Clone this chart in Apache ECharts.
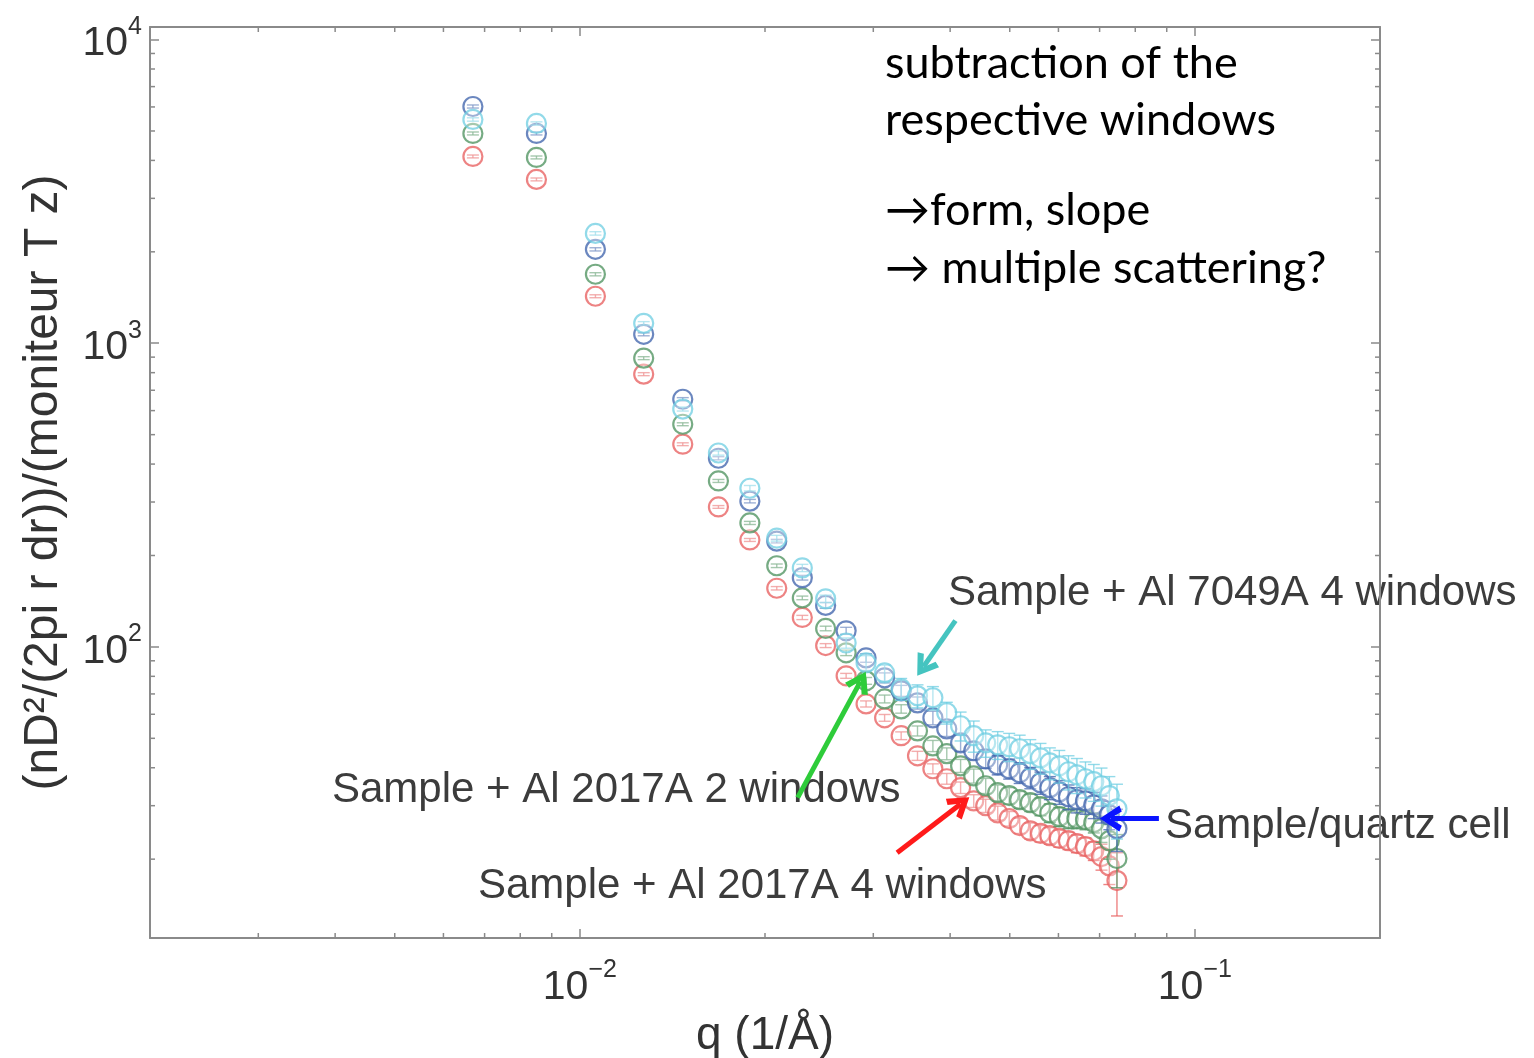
<!DOCTYPE html>
<html>
<head>
<meta charset="utf-8">
<script src="https://cdn.jsdelivr.net/npm/echarts@6/dist/echarts.min.js"></script>
<style>
  html, body { margin: 0; padding: 0; background: #fff; }
  #chart { width: 1534px; height: 1058px; }
</style>
</head>
<body>
<div id="chart"></div>
<script>
// q values (1/A)
const qValues = [0.0067, 0.0085, 0.0106, 0.0127, 0.0147, 0.0168, 0.0189, 0.0209, 0.0230, 0.0251,
  0.0271, 0.0292, 0.0313, 0.0333, 0.0354, 0.0375, 0.0395, 0.0416, 0.0437, 0.0457,
  0.0478, 0.0499, 0.0519, 0.0540, 0.0561, 0.0581, 0.0602, 0.0623, 0.0643, 0.0664,
  0.0685, 0.0705, 0.0726, 0.0747];

// Sample/quartz cell (blue)
const quartz = [6020, 4907, 2038, 1070, 654, 418, 302, 223, 169, 137,
  113, 92.0, 79.1, 71.7, 65.4, 58.4, 53.7, 48.3, 45.5, 42.8,
  40.9, 39.7, 38.5, 37.1, 35.7, 34.4, 33.3, 32.1, 31.4, 31.1,
  30.2, 29.3, 28.0, 25.2];
const quartzErr = [70, 55, 25, 12, 8, 5, 4, 3, 3, 3,
  3, 3, 3, 3, 3, 3, 3, 3, 3, 3,
  3, 3, 3, 3, 3, 3, 3, 3, 3, 3,
  3, 3, 3, 4];

// Sample + Al 7049A 4 windows (cyan)
const al7049 = [5456, 5293, 2300, 1163, 607, 435, 333, 228, 182, 144,
  103, 88.6, 82.1, 72.7, 69.0, 68.0, 60.7, 55.0, 51.0, 48.3,
  47.6, 46.9, 46.2, 44.5, 43.1, 41.5, 40.6, 38.8, 37.9, 36.8,
  36.0, 34.9, 32.4, 29.3];
const al7049Err = [70, 65, 30, 15, 9, 7, 7, 5, 5, 4,
  4, 5, 5, 6, 6, 6, 5, 6, 6, 5,
  5, 5, 5, 5, 5, 5, 5, 5, 5, 5,
  5, 5, 5, 6];

// Sample + Al 2017A 2 windows (green)
const al2017two = [4907, 4091, 1687, 893, 541, 352, 256, 185, 145, 115,
  95.6, 77.3, 67.4, 62.5, 52.9, 47.2, 44.5, 40.6, 37.6, 34.9,
  33.1, 32.4, 31.4, 30.7, 29.8, 28.4, 27.6, 27.2, 27.2, 27.0,
  26.4, 25.2, 23.0, 20.1];
const al2017twoErr = [55, 45, 20, 10, 6, 4, 3, 2.5, 2, 2,
  2, 2, 2, 2, 2, 2, 2, 2, 2, 2,
  2, 2, 2, 2, 2, 2, 2, 2, 2, 2,
  2, 2.5, 3, 4];

// Sample + Al 2017A 4 windows (red)
const al2017four = [4122, 3463, 1428, 791, 465, 289, 225, 156, 125, 101,
  80.3, 64.9, 58.4, 51.0, 43.8, 39.7, 36.8, 34.4, 31.1, 30.0,
  28.4, 27.2, 25.8, 24.8, 24.3, 23.9, 23.4, 23.0, 22.5, 22.0,
  21.3, 20.4, 19.0, 17.0];
const al2017fourErr = [45, 38, 16, 9, 5, 3, 2.5, 2, 2, 1.5,
  1.5, 1.5, 1.5, 1.5, 1.5, 1.5, 1.5, 1.5, 1.5, 1.5,
  1.5, 1.5, 1.5, 1.5, 1.5, 1.5, 1.5, 1.5, 1.5, 1.5,
  1.5, 2, 2.5, 4];

// minor tick positions of the log axes
const xMinorTicks = [0.003, 0.004, 0.005, 0.006, 0.007, 0.008, 0.009,
  0.02, 0.03, 0.04, 0.05, 0.06, 0.07, 0.08, 0.09];
const yMinorTicks = [20, 30, 40, 50, 60, 70, 80, 90,
  200, 300, 400, 500, 600, 700, 800, 900,
  2000, 3000, 4000, 5000, 6000, 7000, 8000, 9000];

const axisColor = '#8a8a8a';
const textFont = 'Liberation Sans';

function powLabel(v) {
  const e = Math.log10(v);
  const r = Math.round(e);
  if (Math.abs(e - r) > 1e-6) return '';
  return '{b|10}{s|' + (r < 0 ? '\u2212' + (-r) : r) + '}';
}
const labelRich = {
  b: { fontSize: 41, fontFamily: textFont, color: '#333', lineHeight: 50, verticalAlign: 'bottom' },
  s: { fontSize: 25, fontFamily: textFont, color: '#333', lineHeight: 25, verticalAlign: 'top' }
};

function errSeries(name, q, vals, errs, color) {
  return {
    name: name,
    type: 'custom',
    clip: true,
    silent: true,
    data: q.map((x, i) => [x, vals[i], errs[i]]),
    encode: { x: 0, y: 1 },
    renderItem: function (params, api) {
      const x = api.value(0), v = api.value(1), e = api.value(2);
      const c = api.coord([x, v]);
      const hi = api.coord([x, v + e]);
      const lo = api.coord([x, v - e]);
      const cap = 6;
      const st = { stroke: color, lineWidth: 1.4, fill: null };
      return {
        type: 'group',
        children: [
          { type: 'line', shape: { x1: c[0], y1: hi[1], x2: c[0], y2: lo[1] }, style: st },
          { type: 'line', shape: { x1: c[0] - cap, y1: hi[1], x2: c[0] + cap, y2: hi[1] }, style: st },
          { type: 'line', shape: { x1: c[0] - cap, y1: lo[1], x2: c[0] + cap, y2: lo[1] }, style: st },
          { type: 'circle', shape: { cx: c[0], cy: c[1], r: 9.5 }, style: { stroke: color, lineWidth: 2.2, fill: 'rgba(255,255,255,0.35)' } }
        ]
      };
    }
  };
}

function minorTickSeries(values, isX) {
  return {
    type: 'custom',
    silent: true,
    clip: false,
    data: values.map(v => isX ? [v, 100] : [0.01, v]),
    renderItem: function (params, api) {
      const cs = params.coordSys;
      const p = api.coord([api.value(0), api.value(1)]);
      const st = { stroke: axisColor, lineWidth: 1.5 };
      const L = 5;
      if (isX) {
        return { type: 'group', children: [
          { type: 'line', shape: { x1: p[0], y1: cs.y + cs.height, x2: p[0], y2: cs.y + cs.height - L }, style: st },
          { type: 'line', shape: { x1: p[0], y1: cs.y, x2: p[0], y2: cs.y + L }, style: st }
        ] };
      }
      return { type: 'group', children: [
        { type: 'line', shape: { x1: cs.x, y1: p[1], x2: cs.x + L, y2: p[1] }, style: st },
        { type: 'line', shape: { x1: cs.x + cs.width, y1: p[1], x2: cs.x + cs.width - L, y2: p[1] }, style: st }
      ] };
    }
  };
}

const chevron = 'path://M0,16 L10,0 L20,16 L15.5,18 L10,8.5 L4.5,18 Z';

const myChart = echarts.init(document.getElementById('chart'));

myChart.setOption({
  backgroundColor: '#fff',
  animation: false,
  grid: { left: 150, right: 154, top: 27, bottom: 120, outerBoundsMode: 'none' },
  xAxis: [
    {
      type: 'log', min: 0.002, max: 0.2, logBase: 10,
      name: 'q (1/\u00c5)', nameLocation: 'middle', nameGap: 62,
      nameTextStyle: { fontSize: 46, fontFamily: textFont, color: '#333' },
      axisLine: { lineStyle: { color: axisColor, width: 2 } },
      axisTick: { inside: true, length: 9, lineStyle: { color: axisColor, width: 1.5 } },
      axisLabel: { formatter: powLabel, rich: labelRich, margin: 20, showMinLabel: false, showMaxLabel: false },
      splitLine: { show: false }
    },
    {
      type: 'log', min: 0.002, max: 0.2, logBase: 10, position: 'top',
      axisLine: { lineStyle: { color: axisColor, width: 2 } },
      axisTick: { inside: true, length: 9, lineStyle: { color: axisColor, width: 1.5 } },
      axisLabel: { show: false },
      splitLine: { show: false }
    }
  ],
  yAxis: [
    {
      type: 'log', min: 11, max: 11000, logBase: 10,
      name: '(nD\u00b2/(2pi r dr))/(moniteur T z)', nameLocation: 'middle', nameGap: 82, nameRotate: 90,
      nameTextStyle: { fontSize: 48, fontFamily: textFont, color: '#333' },
      axisLine: { lineStyle: { color: axisColor, width: 2 } },
      axisTick: { inside: true, length: 9, lineStyle: { color: axisColor, width: 1.5 } },
      axisLabel: { formatter: powLabel, rich: labelRich, margin: 8, showMinLabel: false, showMaxLabel: false },
      splitLine: { show: false }
    },
    {
      type: 'log', min: 11, max: 11000, logBase: 10, position: 'right',
      axisLine: { lineStyle: { color: axisColor, width: 2 } },
      axisTick: { inside: true, length: 9, lineStyle: { color: axisColor, width: 1.5 } },
      axisLabel: { show: false },
      splitLine: { show: false }
    }
  ],
  series: [
    minorTickSeries(xMinorTicks, true),
    minorTickSeries(yMinorTicks, false),
    errSeries('Sample + Al 2017A 4 windows', qValues, al2017four, al2017fourErr, 'rgba(232,100,100,0.8)'),
    errSeries('Sample + Al 2017A 2 windows', qValues, al2017two, al2017twoErr, 'rgba(84,150,100,0.8)'),
    errSeries('Sample/quartz cell', qValues, quartz, quartzErr, 'rgba(70,105,175,0.8)'),
    errSeries('Sample + Al 7049A 4 windows', qValues, al7049, al7049Err, 'rgba(110,205,225,0.75)'),
    {
      type: 'line',
      data: [],
      silent: true,
      markLine: {
        silent: true,
        animation: false,
        symbol: ['none', chevron],
        symbolSize: [26, 22],
        label: { show: false },
        data: [
          [{ coord: [0.0408, 122], lineStyle: { color: '#45c4c0', width: 5, type: 'solid' } }, { coord: [0.0362, 86] }],
          [{ coord: [0.0226, 31.9], lineStyle: { color: '#2ecc3a', width: 5, type: 'solid' } }, { coord: [0.0286, 77] }],
          [{ coord: [0.0328, 21.0], lineStyle: { color: '#ff1a1a', width: 5, type: 'solid' } }, { coord: [0.0416, 30.4] }],
          [{ coord: [0.0874, 27.2], lineStyle: { color: '#0a14ff', width: 5, type: 'solid' } }, { coord: [0.0730, 27.2] }]
        ]
      }
    }
  ],
  graphic: [
    { type: 'text', x: 885, y: 63, style: { text: 'subtraction of the', fontSize: 45, fontFamily: 'Lato', fill: '#000', verticalAlign: 'middle' } },
    { type: 'text', x: 885, y: 120, style: { text: 'respective windows', fontSize: 45, fontFamily: 'Lato', fill: '#000', verticalAlign: 'middle' } },
    { type: 'text', x: 885, y: 210, style: { text: '\u2192form, slope', fontSize: 45, fontFamily: 'Lato', fill: '#000', verticalAlign: 'middle' } },
    { type: 'text', x: 885, y: 268, style: { text: '\u2192 multiple scattering?', fontSize: 45, fontFamily: 'Lato', fill: '#000', verticalAlign: 'middle' } },
    { type: 'text', x: 948, y: 593, style: { text: 'Sample + Al 7049A 4 windows', fontSize: 42, fontFamily: textFont, fill: '#3c3c3c', verticalAlign: 'middle' } },
    { type: 'text', x: 332, y: 790, style: { text: 'Sample + Al 2017A 2 windows', fontSize: 42, fontFamily: textFont, fill: '#3c3c3c', verticalAlign: 'middle' } },
    { type: 'text', x: 1165, y: 826, style: { text: 'Sample/quartz cell', fontSize: 42, fontFamily: textFont, fill: '#3c3c3c', verticalAlign: 'middle' } },
    { type: 'text', x: 478, y: 886, style: { text: 'Sample + Al 2017A 4 windows', fontSize: 42, fontFamily: textFont, fill: '#3c3c3c', verticalAlign: 'middle' } }
  ]
});
</script>
</body>
</html>
